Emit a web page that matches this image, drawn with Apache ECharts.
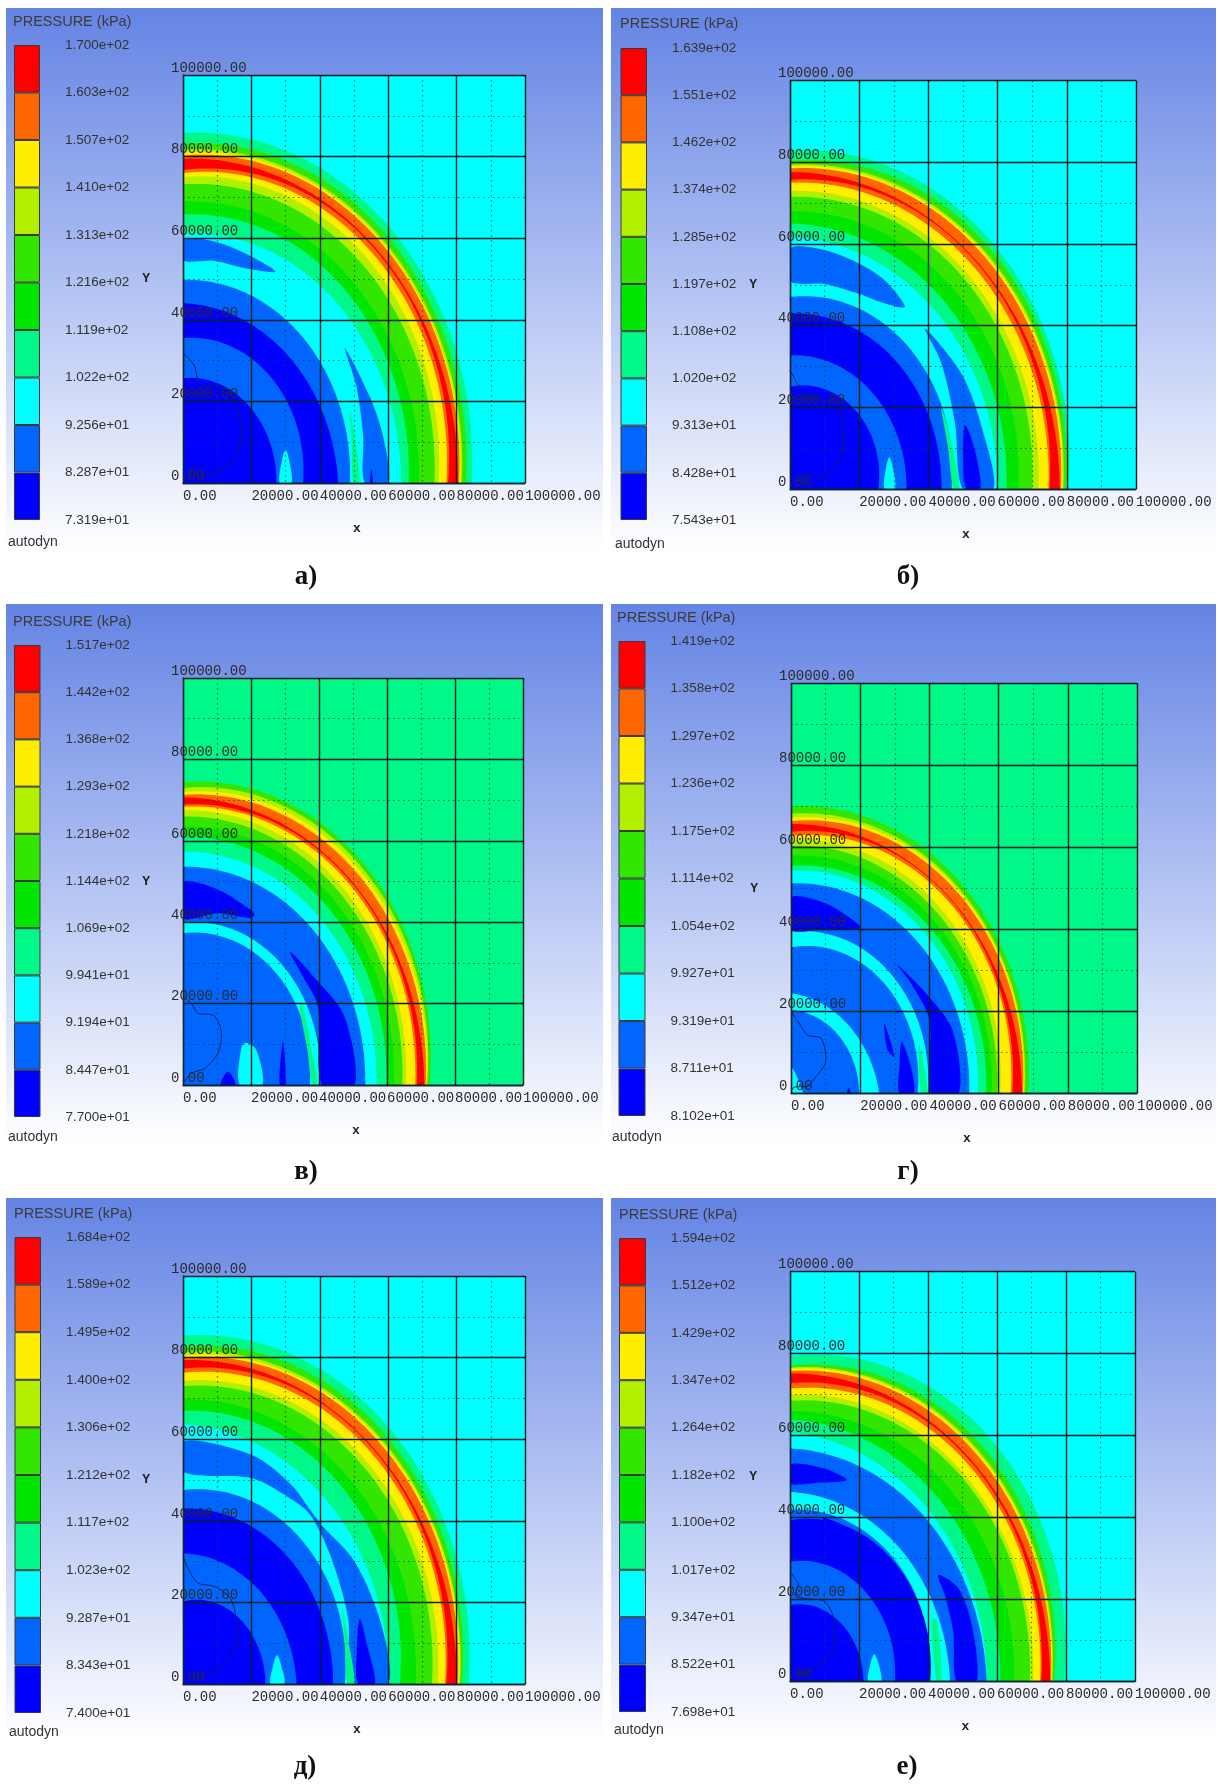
<!DOCTYPE html>
<html><head><meta charset="utf-8">
<style>html,body{margin:0;padding:0;background:#fff}#c{width:1219px;height:1785px;filter:blur(0.55px)}</style>
<script src="https://cdn.jsdelivr.net/npm/echarts@6/dist/echarts.min.js"></script>
</head><body><div id="c"></div>
<script>
// ---- colour levels of the legend, low to high
const levelColors = ['#0000ff','#0066ff','#00ffff','#00f888','#00e600','#33e600','#b3f000','#ffee00','#ff6600','#ff0000'];
const panelTitle = 'PRESSURE (kPa)';
const axisTicks = [0,20000,40000,60000,80000,100000];

// ---- legend tick labels, bottom to top
const ticksA = ['7.319e+01','8.287e+01','9.256e+01','1.022e+02','1.119e+02','1.216e+02','1.313e+02','1.410e+02','1.507e+02','1.603e+02','1.700e+02'];
const ticksB = ['7.543e+01','8.428e+01','9.313e+01','1.020e+02','1.108e+02','1.197e+02','1.285e+02','1.374e+02','1.462e+02','1.551e+02','1.639e+02'];
const ticksC = ['7.700e+01','8.447e+01','9.194e+01','9.941e+01','1.069e+02','1.144e+02','1.218e+02','1.293e+02','1.368e+02','1.442e+02','1.517e+02'];
const ticksD = ['8.102e+01','8.711e+01','9.319e+01','9.927e+01','1.054e+02','1.114e+02','1.175e+02','1.236e+02','1.297e+02','1.358e+02','1.419e+02'];
const ticksE = ['7.400e+01','8.343e+01','9.287e+01','1.023e+02','1.117e+02','1.212e+02','1.306e+02','1.400e+02','1.495e+02','1.589e+02','1.684e+02'];
const ticksF = ['7.698e+01','8.522e+01','9.347e+01','1.017e+02','1.100e+02','1.182e+02','1.264e+02','1.347e+02','1.429e+02','1.512e+02','1.594e+02'];

// ---- contour discs, painted outside-in: [level, radius on x axis, radius at 45deg, radius on y axis] (thousands)
const ringsA = [[3,84.4,87,85.8],[5,82.7,85,83.2],[6,81.5,83.5,81.7],[7,81,83,81],[8,80.7,82.6,80.3],[9,80.4,80.6,79.5],[8,77.5,80.2,76.7],[7,77,79,76],[6,74.7,77,75],[5,73.5,75,73.2],[4,69,70,69],[3,66,67,65.8],[2,63.8,63,61],[1,48.8,50,49.8],[0,45.4,43.8,44.1],[1,35.1,36.5,35.5],[0,27.3,27,25.7]];
const ringsB = [[3,80.5,84,82.9],[5,79.5,82.5,80.4],[6,79,81,79.4],[7,78.7,80.5,79],[8,78.3,80,78.5],[9,78,77.6,77.6],[8,75,77.3,75.7],[7,74.7,76,75],[6,71.8,73.5,73],[5,70,72,71.5],[4,66,68,68],[3,62.6,64,65],[2,60,60.5,61.7],[1,46.7,48.8,47],[0,43.8,43.8,42.9],[1,33.7,33.5,32.7],[0,25.5,27,25]];
const ringsC = [[5,72.5,76,74.4],[6,71.8,75,73],[7,71.6,74,72],[8,71.4,73,71.3],[9,71,70.5,70.7],[8,68.8,70.2,68.9],[7,68.3,69.5,68.4],[6,65.5,67.5,67.5],[5,64.5,66,66],[4,62,63.5,63.5],[3,59.8,61,61],[2,56.9,57.5,57.3],[1,53.6,54,53.6],[2,40.2,41.5,39.8],[1,37.3,38.8,37.3]];
const ringsD = [[5,68.5,71,70],[6,67.5,69.7,68.2],[7,67.2,69.2,67.2],[8,67,68.7,66.4],[9,66.8,66.2,65.7],[8,64,66,63.8],[7,63.5,65.3,62.8],[6,60.5,62.5,61.8],[5,59.5,61,60.4],[4,58,59,58],[3,56.4,57,55.5],[2,54,55,54.3],[1,51.5,52,51.2],[2,39.5,41,39.4],[1,36.6,38,35.6],[2,25.5,23.5,24.4],[1,19.7,19.7,20.3]];
const ringsE = [[3,83.5,87,85.4],[5,81.5,85,82.6],[6,81,83.5,81.3],[7,80.7,83,80.6],[8,80.3,82.5,80],[9,80,80.3,79.4],[8,77,80,77.3],[7,76.6,79,76.3],[6,74.5,76.5,74.3],[5,72.8,75,73],[4,68,70,69.8],[3,63.4,67,67],[2,60,61.5,63.7],[1,47.3,49.5,47.5],[0,43.9,43.7,43],[1,33.2,32,32],[0,24.1,23,20.2]];
const ringsF = [[3,79.5,83,79.3],[5,76.5,80,77],[6,76,78.5,76.6],[7,75.8,78,76.3],[8,75.6,77.5,75.8],[9,75.4,75.4,75.2],[8,72.8,75,72.8],[7,72.5,74,71.5],[6,70.5,71.5,70],[5,69.5,70.5,68.5],[4,65,66,66],[3,61,62,64],[2,57,58,60.8],[1,57,56,56.9],[2,46.4,45.5,46.3],[1,40.6,42.5,41.9],[0,40.6,42,39.4],[1,30.4,31,29.3],[0,21.3,20.5,18.7]];

// ---- isolated blobs: [level, [x,y, x,y, ...]] (thousands)
const patchesA = [
 [1,[0,59.7,10,59,20,55.5,27,51.8,19,52.5,9,54.5,0,54.6]],
 [1,[47.3,33.1,54.6,21.2,58.5,11.4,60,0,53.2,0,52.7,11.4,50.7,23.7]],
 [3,[48.8,18,50.3,11,51.6,0,49.8,0,49.3,10]],
 [2,[28.3,0,28.8,5,30,8.2,31.2,5,31.7,0]],
 [0,[54.7,0,55.1,3.3,55.5,0]]];
const patchesB = [
 [1,[0,58.9,10,58.5,19.9,55.2,27.5,51,33.2,44.6,27.5,45.4,19.9,47.8,10,50.2,0,50.9]],
 [1,[39,39.3,49.6,28.2,55.4,15.2,58.8,0,50,0,47.7,16,43.8,30.7]],
 [3,[43.7,20,46,14,49,0,47.2,0,45.7,10]],
 [0,[50.6,15.6,53.3,10,55,0,51,0,50,8]],
 [2,[27.3,0,27.7,5,28.7,7.8,29.8,5,30.3,0]]];
const patchesC = [
 [0,[0,49.8,10.3,48,20,43,21,41.8,20,41,10.3,42.2,0,41]],
 [3,[35,20,37.5,10,39.5,0,38,0,36.5,9,34.3,19]],
 [0,[31.4,32.8,39.7,25.4,47.5,16.8,50.5,0,40.9,0,39.7,19.3,35.3,26.6]],
 [2,[16.7,0,17.2,9.4,18.6,10.4,21.6,8.6,23.3,0]],
 [0,[28.4,0,29.4,10.6,30.2,0]],
 [0,[11.1,0,13.2,3.3,15.4,0]]];
const patchesD = [
 [0,[0,47.8,10.1,46.3,17.8,42.3,20.2,40.2,10,40,0,39.9]],
 [0,[30.8,31.3,39,24.4,46.7,15.4,48.5,0,40.5,0,40,17.9,34.7,26.8]],
 [3,[37,12,39.5,0,37.6,0]],
 [0,[27,17,29.9,8.9,27.9,10.6]],
 [0,[32,12.6,34.5,7,35.5,0,31.3,0,31.4,7]],
 [0,[16.2,0,16.7,1.5,17.2,0]],
 [2,[0,6.5,3.4,0,0,0]]];
const patchesE = [
 [1,[0,59.5,20.2,56.1,31.7,48.8,37.6,42.2,40.5,39,50.2,30,58,14.5,60,0,49.3,0,48.3,16,43.4,30.8,37.6,41,32.7,44.7,20.2,50.4,0,52]],
 [3,[46.5,19,48.5,10,50.2,0,48,0,47.3,10]],
 [0,[51.2,0,50.8,8,51.7,16,54,9,56.1,0]],
 [2,[25.6,0,26.2,4,27.5,7.1,28.9,4,29.6,0]]];
const patchesF = [
 [0,[0,53,10,52,16.4,49.2,8,48.5,0,48.4]],
 [0,[9.2,40.2,15.5,38.2,11.1,38.6]],
 [0,[43,26,48.8,22.8,52.7,13.8,54.1,0,48.3,0,47.3,12.2,44.9,21.1]],
 [3,[41,15,42.6,15,44,0,42.6,0]],
 [2,[22.7,0,23.2,4,24.4,6.7,25.8,4,26.4,0]]];

// ---- thin material-boundary curve: [x,y] (thousands)
const curveA = [[0,31.9],[3.4,28.6],[4.9,23.7],[8.8,24.1],[13.7,22],[17.1,13.1],[15.6,6.5],[10.7,2.9],[4.9,1.6],[3.4,4.1],[1.5,0.8]];
const curveB = [[0,29],[2.4,25.4],[4,23],[14,20],[15.4,10.3],[9.2,2.9],[3.9,3.8],[1.4,0.9]];
const curveC = [[0,21.7],[2.5,20],[4.4,17.6],[8.8,17.2],[11.3,12.7],[10.3,7.8],[6.4,4.1],[2.5,2.9],[0.5,0.8]];
const curveD = [[0,19.9],[2.4,17],[4.8,14.2],[8.7,13.4],[10.1,8.1],[7.2,4],[4.3,1.6],[1.4,1.6],[0,0.8]];
const curveE = [[0,31.2],[2,27.5],[4.4,24.7],[9.3,23.9],[14.1,20.6],[16.1,11.2],[12.2,4.7],[7.3,2.2],[2.4,1.4]];
const curveF = [[0,26.8],[2.4,23.6],[1.4,21.1],[4.3,20.3],[10.1,19.5],[13,13.8],[12.1,7.3],[7.2,3.3],[2.4,1.6]];

// ---- table built from the arrays above; geometry of the page stays here, not in the data
const panels = [
 {ticks:ticksA,rings:ringsA,patches:patchesA,curve:curveA,bg:2,letter:'а)',box:[183,75,342,408],bar:[14,45,26,475],pane:[6,8,597,560],tx:13,ty:14,ax:8,ay:535,lx:306,ly:577},
 {ticks:ticksB,rings:ringsB,patches:patchesB,curve:curveB,bg:2,letter:'б)',box:[790,80.5,346,408.5],bar:[620.5,48,26.5,472],pane:[611,8,605,560],tx:620,ty:16,ax:615,ay:537,lx:908,ly:577},
 {ticks:ticksC,rings:ringsC,patches:patchesC,curve:curveC,bg:3,letter:'в)',box:[183,678,340,407],bar:[14,645,26.5,472],pane:[6,604,597,555],tx:13,ty:614,ax:8,ay:1130,lx:306,ly:1172},
 {ticks:ticksD,rings:ringsD,patches:patchesD,curve:curveD,bg:3,letter:'г)',box:[791,683.3,346,410],bar:[618.5,641,27,475],pane:[611,604,605,555],tx:617,ty:610,ax:612,ay:1130,lx:908,ly:1172},
 {ticks:ticksE,rings:ringsE,patches:patchesE,curve:curveE,bg:2,letter:'д)',box:[183,1276,342,408],bar:[14.5,1237,26.5,476],pane:[6,1198,597,560],tx:14,ty:1206,ax:9,ay:1725,lx:305,ly:1767},
 {ticks:ticksF,rings:ringsF,patches:patchesF,curve:curveF,bg:2,letter:'е)',box:[790,1271.7,345,410],bar:[619,1238,27,474],pane:[611,1198,605,560],tx:619,ty:1207,ax:614,ay:1723,lx:907,ly:1767}
];

const monoFont = '"Liberation Mono","DejaVu Sans Mono",monospace';
const sansFont = '"Liberation Sans",Arial,sans-serif';
const grid=[],xAxis=[],yAxis=[],series=[],graphic=[];

function radiusAt(r0,r45,r90,t){ // t: 0 on x axis .. 1 on y axis; curve through the three read radii
  return r0*(2*t-1)*(t-1) + r45*4*t*(1-t) + r90*t*(2*t-1);
}
panels.forEach((p,i)=>{
  const gi=grid.length;
  grid.push({left:p.box[0],top:p.box[1],width:p.box[2],height:p.box[3],containLabel:false});
  const grid2=gi+1;
  grid.push({left:p.bar[0],top:p.bar[1],width:p.bar[2],height:p.bar[3],containLabel:false});
  const common={min:0,max:100000,interval:20000,gridIndex:gi,z:5,
    axisTick:{show:false},
    axisLine:{show:true,onZero:false,lineStyle:{color:'#123',width:1.3}},
    splitLine:{show:true,lineStyle:{color:'#0b1f22',width:1.4}},
    minorTick:{show:false,splitNumber:2},
    minorSplitLine:{show:true,lineStyle:{color:'rgba(0,70,70,0.7)',type:[1.5,3.5],width:1.2}}};
  const nameStyle={fontFamily:monoFont,fontSize:13,fontWeight:'bold',color:'#222'};
  const lab={fontFamily:monoFont,fontSize:14,color:'#2a2a2a',align:'left',formatter:v=>v.toFixed(2),hideOverlap:false};
  xAxis.push(Object.assign({},common,{type:'value',name:'x',nameLocation:'middle',nameGap:39,
     nameTextStyle:Object.assign({},nameStyle,{padding:[0,0,0,6]}),
     axisLabel:Object.assign({},lab,{margin:6,verticalAlign:'top'})}));
  yAxis.push(Object.assign({},common,{type:'value',name:'Y',nameLocation:'middle',nameGap:33,nameRotate:0,
     nameTextStyle:Object.assign({},nameStyle,{padding:[0,0,6,0]}),
     axisLabel:Object.assign({},lab,{margin:12,verticalAlign:'bottom'})}));
  xAxis.push({type:'category',gridIndex:grid2,data:['p'],show:false});
  yAxis.push({type:'value',gridIndex:grid2,min:0,max:10,interval:1,position:'right',
     axisLine:{show:false},axisTick:{show:false},splitLine:{show:false},
     axisLabel:{margin:25,fontFamily:sansFont,fontSize:13.5,color:'#333',align:'left',formatter:v=>p.ticks[v]}});

  // regions in paint order
  const regions=[{bg:p.bg}].concat(p.rings.map(r=>({ring:r}))).concat(p.patches.map(q=>({patch:q})));
  series.push({type:'custom',xAxisIndex:gi,yAxisIndex:gi,coordinateSystem:'cartesian2d',clip:true,z:2,silent:true,
    data:regions.map((_,k)=>[k]),encode:{x:0,y:0},
    renderItem:(params,api)=>{
      const reg=regions[params.dataIndex];
      let pts=[],lvl,smooth=0;
      if(reg.bg!==undefined){
        lvl=reg.bg;
        pts=[[0,0],[100000,0],[100000,100000],[0,100000]].map(d=>api.coord(d));
      }else if(reg.ring){
        lvl=reg.ring[0];
        pts.push(api.coord([0,0]));
        for(let a=0;a<=90;a+=2){
          const t=a/90,rad=a*Math.PI/180,
                r=radiusAt(reg.ring[1],reg.ring[2],reg.ring[3],t)*1000;
          pts.push(api.coord([r*Math.cos(rad),r*Math.sin(rad)]));
        }
      }else{
        lvl=reg.patch[0];
        const f=reg.patch[1];
        for(let k=0;k<f.length;k+=2)pts.push(api.coord([f[k]*1000,f[k+1]*1000]));
        smooth=0.3;
      }
      return {type:'polygon',shape:{points:pts,smooth:smooth},style:{fill:levelColors[lvl],stroke:null}};
    }});
  series.push({type:'line',xAxisIndex:gi,yAxisIndex:gi,z:3,silent:true,symbol:'none',smooth:0.3,
    data:p.curve.map(c=>[c[0]*1000,c[1]*1000]),lineStyle:{color:'#10205a',width:1}});

  levelColors.forEach((col,l)=>{
    series.push({type:'bar',xAxisIndex:grid2,yAxisIndex:grid2,stack:'legend'+i,barWidth:'100%',silent:true,z:2,
      data:[1],itemStyle:{color:col,borderColor:'#3a3a3a',borderWidth:1}});
  });

  graphic.push({type:'rect',z:-10,silent:true,
    shape:{x:p.pane[0],y:p.pane[1],width:p.pane[2],height:p.pane[3]},
    style:{fill:new echarts.graphic.LinearGradient(0,0,0,1,[
      {offset:0,color:'#6484e4'},{offset:0.5,color:'#b2c2f3'},{offset:0.97,color:'#ffffff'},{offset:1,color:'#ffffff'}])}});
  graphic.push({type:'text',z:20,silent:true,x:p.tx,y:p.ty,
    style:{text:panelTitle,font:'14.5px '+sansFont,fill:'#3a3a3a'}});
  graphic.push({type:'text',z:20,silent:true,x:p.ax,y:p.ay,
    style:{text:'autodyn',font:'14px '+sansFont,fill:'#333'}});
  graphic.push({type:'text',z:20,silent:true,x:p.lx,y:p.ly,
    style:{text:p.letter,font:'bold 27px "Liberation Serif",serif',fill:'#111',align:'center',verticalAlign:'middle'}});
});

const chart=echarts.init(document.getElementById('c'),null,{renderer:'canvas',width:1219,height:1785});
chart.setOption({animation:false,backgroundColor:'#ffffff',tooltip:{show:false},grid,xAxis,yAxis,series,graphic:{elements:graphic}});
</script></body></html>
